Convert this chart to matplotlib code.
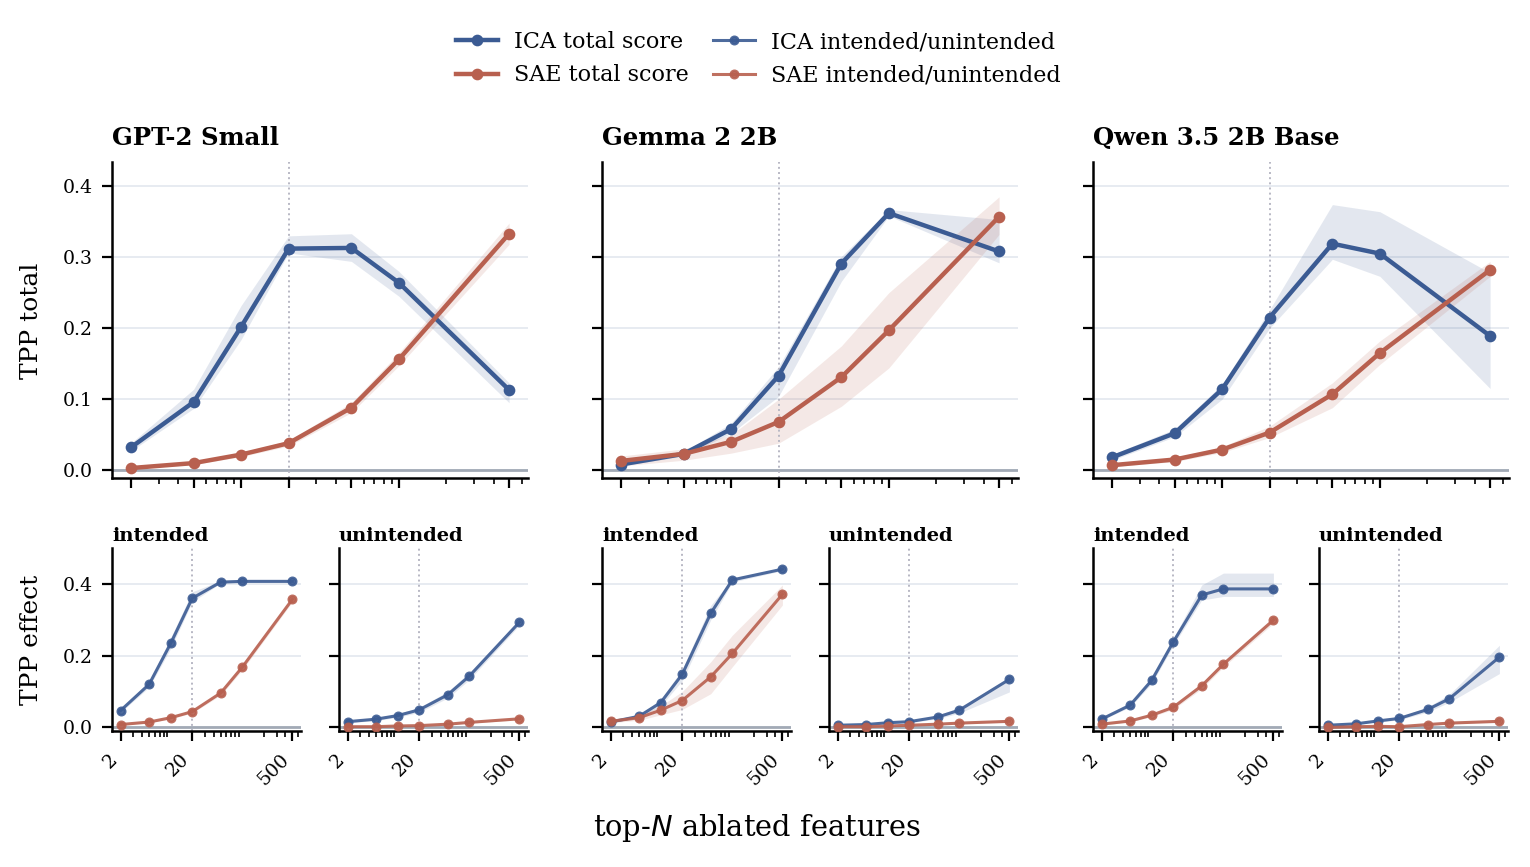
import matplotlib.pyplot as plt
from matplotlib.lines import Line2D

plt.rcParams['font.family'] = ['DejaVu Serif']

# x values: number of ablated features
N = [2, 5, 10, 20, 50, 100, 500]
models = ['GPT-2 Small', 'Gemma 2 2B', 'Qwen 3.5 2B Base']

# --- TPP total (mean, lower, upper) ---
gpt2_ica_total = [0.032, 0.096, 0.202, 0.312, 0.313, 0.264, 0.113]
gpt2_ica_total_lo = [0.027, 0.087, 0.184, 0.306, 0.294, 0.245, 0.095]
gpt2_ica_total_hi = [0.038, 0.114, 0.232, 0.330, 0.333, 0.280, 0.123]
gpt2_sae_total = [0.003, 0.010, 0.022, 0.038, 0.088, 0.156, 0.333]
gpt2_sae_total_lo = [0.002, 0.008, 0.019, 0.034, 0.081, 0.147, 0.318]
gpt2_sae_total_hi = [0.005, 0.012, 0.025, 0.042, 0.095, 0.165, 0.348]

gemma_ica_total = [0.008, 0.023, 0.058, 0.133, 0.291, 0.362, 0.308]
gemma_ica_total_lo = [0.006, 0.020, 0.052, 0.104, 0.266, 0.358, 0.292]
gemma_ica_total_hi = [0.010, 0.026, 0.066, 0.146, 0.301, 0.367, 0.353]
gemma_sae_total = [0.013, 0.023, 0.040, 0.068, 0.131, 0.197, 0.357]
gemma_sae_total_lo = [0.006, 0.014, 0.024, 0.038, 0.090, 0.144, 0.332]
gemma_sae_total_hi = [0.020, 0.030, 0.050, 0.100, 0.175, 0.250, 0.385]

qwen_ica_total = [0.018, 0.052, 0.114, 0.215, 0.319, 0.305, 0.189]
qwen_ica_total_lo = [0.014, 0.047, 0.100, 0.200, 0.297, 0.273, 0.115]
qwen_ica_total_hi = [0.022, 0.058, 0.121, 0.226, 0.374, 0.364, 0.278]
qwen_sae_total = [0.007, 0.015, 0.029, 0.053, 0.107, 0.165, 0.282]
qwen_sae_total_lo = [0.005, 0.012, 0.025, 0.046, 0.088, 0.149, 0.273]
qwen_sae_total_hi = [0.009, 0.018, 0.033, 0.062, 0.123, 0.182, 0.294]

# --- TPP intended effect ---
gpt2_ica_int = [0.047, 0.120, 0.234, 0.360, 0.405, 0.407, 0.407]
gpt2_ica_int_lo = [0.042, 0.112, 0.220, 0.350, 0.402, 0.404, 0.404]
gpt2_ica_int_hi = [0.052, 0.128, 0.250, 0.378, 0.409, 0.410, 0.410]
gpt2_sae_int = [0.008, 0.015, 0.027, 0.044, 0.096, 0.168, 0.357]
gpt2_sae_int_lo = [0.006, 0.013, 0.024, 0.040, 0.090, 0.160, 0.350]
gpt2_sae_int_hi = [0.010, 0.017, 0.030, 0.048, 0.102, 0.176, 0.364]

gemma_ica_int = [0.015, 0.031, 0.069, 0.148, 0.318, 0.411, 0.441]
gemma_ica_int_lo = [0.012, 0.027, 0.060, 0.130, 0.300, 0.405, 0.437]
gemma_ica_int_hi = [0.018, 0.035, 0.078, 0.162, 0.340, 0.416, 0.445]
gemma_sae_int = [0.017, 0.027, 0.048, 0.075, 0.141, 0.206, 0.371]
gemma_sae_int_lo = [0.013, 0.020, 0.035, 0.050, 0.094, 0.169, 0.341]
gemma_sae_int_hi = [0.021, 0.034, 0.060, 0.100, 0.183, 0.257, 0.397]

qwen_ica_int = [0.023, 0.062, 0.131, 0.238, 0.369, 0.386, 0.386]
qwen_ica_int_lo = [0.020, 0.057, 0.122, 0.228, 0.355, 0.365, 0.365]
qwen_ica_int_hi = [0.026, 0.067, 0.140, 0.248, 0.397, 0.430, 0.430]
qwen_sae_int = [0.009, 0.018, 0.034, 0.056, 0.116, 0.176, 0.299]
qwen_sae_int_lo = [0.007, 0.015, 0.030, 0.050, 0.108, 0.168, 0.290]
qwen_sae_int_hi = [0.011, 0.021, 0.038, 0.062, 0.124, 0.184, 0.308]

# --- TPP unintended effect ---
gpt2_ica_unint = [0.016, 0.023, 0.033, 0.049, 0.091, 0.143, 0.293]
gpt2_ica_unint_lo = [0.013, 0.019, 0.028, 0.042, 0.082, 0.133, 0.285]
gpt2_ica_unint_hi = [0.019, 0.027, 0.038, 0.056, 0.100, 0.153, 0.301]
gpt2_sae_unint = [0.002, 0.002, 0.004, 0.005, 0.009, 0.014, 0.024]
gpt2_sae_unint_lo = [0.001, 0.001, 0.003, 0.004, 0.007, 0.012, 0.021]
gpt2_sae_unint_hi = [0.003, 0.003, 0.005, 0.006, 0.011, 0.016, 0.027]

gemma_ica_unint = [0.006, 0.008, 0.013, 0.016, 0.029, 0.048, 0.134]
gemma_ica_unint_lo = [0.005, 0.007, 0.011, 0.013, 0.024, 0.040, 0.099]
gemma_ica_unint_hi = [0.007, 0.009, 0.015, 0.019, 0.034, 0.056, 0.140]
gemma_sae_unint = [0.002, 0.002, 0.004, 0.006, 0.009, 0.012, 0.017]
gemma_sae_unint_lo = [0.001, 0.001, 0.003, 0.004, 0.007, 0.010, 0.014]
gemma_sae_unint_hi = [0.003, 0.003, 0.005, 0.008, 0.011, 0.014, 0.020]

qwen_ica_unint = [0.006, 0.010, 0.018, 0.025, 0.050, 0.080, 0.196]
qwen_ica_unint_lo = [0.005, 0.008, 0.015, 0.021, 0.043, 0.070, 0.150]
qwen_ica_unint_hi = [0.007, 0.012, 0.021, 0.029, 0.057, 0.092, 0.229]
qwen_sae_unint = [0.000, 0.002, 0.003, 0.002, 0.008, 0.012, 0.017]
qwen_sae_unint_lo = [-0.001, 0.001, 0.002, 0.001, 0.006, 0.010, 0.014]
qwen_sae_unint_hi = [0.001, 0.003, 0.004, 0.003, 0.010, 0.014, 0.020]

ica_color = '#3b5b93'
sae_color = '#b8604f'

totals = [
    (gpt2_ica_total, gpt2_ica_total_lo, gpt2_ica_total_hi, gpt2_sae_total, gpt2_sae_total_lo, gpt2_sae_total_hi),
    (gemma_ica_total, gemma_ica_total_lo, gemma_ica_total_hi, gemma_sae_total, gemma_sae_total_lo, gemma_sae_total_hi),
    (qwen_ica_total, qwen_ica_total_lo, qwen_ica_total_hi, qwen_sae_total, qwen_sae_total_lo, qwen_sae_total_hi),
]
intended = [
    (gpt2_ica_int, gpt2_ica_int_lo, gpt2_ica_int_hi, gpt2_sae_int, gpt2_sae_int_lo, gpt2_sae_int_hi),
    (gemma_ica_int, gemma_ica_int_lo, gemma_ica_int_hi, gemma_sae_int, gemma_sae_int_lo, gemma_sae_int_hi),
    (qwen_ica_int, qwen_ica_int_lo, qwen_ica_int_hi, qwen_sae_int, qwen_sae_int_lo, qwen_sae_int_hi),
]
unintended = [
    (gpt2_ica_unint, gpt2_ica_unint_lo, gpt2_ica_unint_hi, gpt2_sae_unint, gpt2_sae_unint_lo, gpt2_sae_unint_hi),
    (gemma_ica_unint, gemma_ica_unint_lo, gemma_ica_unint_hi, gemma_sae_unint, gemma_sae_unint_lo, gemma_sae_unint_hi),
    (qwen_ica_unint, qwen_ica_unint_lo, qwen_ica_unint_hi, qwen_sae_unint, qwen_sae_unint_lo, qwen_sae_unint_hi),
]


def style_axis(ax, ylim, yticks, show_ylabels):
    ax.set_xscale('log')
    ax.set_ylim(*ylim)
    ax.set_yticks(yticks)
    ax.spines['top'].set_visible(False)
    ax.spines['right'].set_visible(False)
    ax.spines['left'].set_linewidth(0.9)
    ax.spines['bottom'].set_linewidth(0.9)
    ax.tick_params(axis='both', which='major', labelsize=6.8, length=3.5, width=0.8)
    ax.tick_params(axis='x', which='minor', length=2, width=0.6)
    ax.tick_params(axis='y', labelleft=show_ylabels)
    ax.grid(axis='y', color='#e3e7ef', linewidth=0.6)
    ax.set_axisbelow(True)
    ax.axhline(0, color='#a2aab6', linewidth=1.0, zorder=1)
    ax.axvline(20, color='#b8b8c4', linestyle=':', linewidth=0.7, zorder=1)


def draw(ax, data, lw, ms, alpha):
    ica, ica_lo, ica_hi, sae, sae_lo, sae_hi = data
    ax.fill_between(N, ica_lo, ica_hi, color=ica_color, alpha=0.14, linewidth=0)
    ax.fill_between(N, sae_lo, sae_hi, color=sae_color, alpha=0.14, linewidth=0)
    ax.plot(N, ica, color=ica_color, marker='o', lw=lw, ms=ms, alpha=alpha, zorder=3)
    ax.plot(N, sae, color=sae_color, marker='o', lw=lw, ms=ms, alpha=alpha, zorder=3)


fig = plt.figure(figsize=(7.65, 4.335), dpi=200)

top_lefts = [112, 602, 1093]
bot_lefts = [(112, 339), (602, 829), (1093, 1319)]
W, H = 1530, 867

for i, name in enumerate(models):
    ax = fig.add_axes([top_lefts[i] / W, 1 - 478 / H, 416 / W, 316 / H])
    draw(ax, totals[i], lw=1.6, ms=3.2, alpha=1.0)
    style_axis(ax, (-0.011, 0.434), [0, 0.1, 0.2, 0.3, 0.4], i == 0)
    ax.set_xticks(N)
    ax.tick_params(axis='x', labelbottom=False)
    ax.set_title(name, loc='left', fontsize=8.8, fontweight='bold', pad=6)

    for j, (label, data) in enumerate([('intended', intended[i]), ('unintended', unintended[i])]):
        bx = fig.add_axes([bot_lefts[i][j] / W, 1 - 731 / H, 189 / W, 183 / H])
        draw(bx, data, lw=1.1, ms=2.6, alpha=0.9)
        style_axis(bx, (-0.01, 0.5), [0, 0.2, 0.4], i == 0 and j == 0)
        bx.set_xticks([2, 20, 500])
        bx.set_xticklabels(['2', '20', '500'], rotation=45, ha='right')
        bx.set_title(label, loc='left', fontsize=7, fontweight='bold', pad=2.5)

fig.text(31 / W, 1 - 321 / H, 'TPP total', rotation=90, ha='center', va='center', fontsize=9)
fig.text(31 / W, 1 - 640 / H, 'TPP effect', rotation=90, ha='center', va='center', fontsize=9)
fig.text(757 / W, 1 - 828 / H, 'top-$N$ ablated features', ha='center', va='center', fontsize=10.4)

handles = [
    Line2D([], [], color=ica_color, marker='o', lw=1.6, ms=3.2, label='ICA total score'),
    Line2D([], [], color=sae_color, marker='o', lw=1.6, ms=3.2, label='SAE total score'),
    Line2D([], [], color=ica_color, marker='o', lw=1.1, ms=2.6, alpha=0.9, label='ICA intended/unintended'),
    Line2D([], [], color=sae_color, marker='o', lw=1.1, ms=2.6, alpha=0.9, label='SAE intended/unintended'),
]
fig.legend(handles=handles, loc='upper center', bbox_to_anchor=(0.4955, 0.987), ncol=2,
           frameon=False, fontsize=8, columnspacing=1.1, handlelength=1.9,
           handletextpad=0.7, labelspacing=0.5)

plt.savefig('out.png', dpi=200)
